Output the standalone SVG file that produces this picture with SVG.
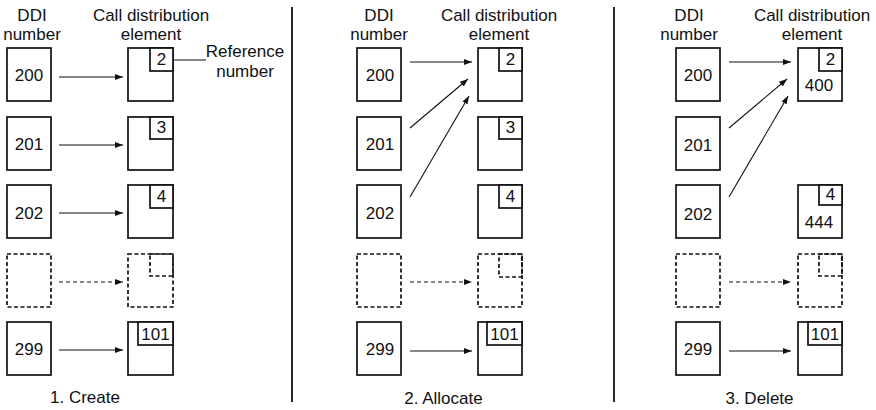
<svg xmlns="http://www.w3.org/2000/svg" width="876" height="410" viewBox="0 0 876 410">
<style>
text{font-family:"Liberation Sans",Arial,sans-serif;fill:#111;text-anchor:middle}
.t{font-size:17px}
.n{font-size:17px}
.box{fill:#fff;stroke:#111;stroke-width:1.7}
.dbox{fill:none;stroke:#111;stroke-width:1.7;stroke-dasharray:4 2.5}
.arr{fill:none;stroke:#111;stroke-width:1.1;marker-end:url(#ah)}
.darr{fill:none;stroke:#111;stroke-width:1.1;stroke-dasharray:4 3;marker-end:url(#ah)}
.div{stroke:#111;stroke-width:1.8}
.ln{stroke:#111;stroke-width:1.1}
</style>
<defs>
<marker id="ah" markerUnits="userSpaceOnUse" markerWidth="8" markerHeight="6" refX="8" refY="3" orient="auto">
<path d="M0,0 L8,3 L0,6 z" fill="#111"/>
</marker>
</defs>
<rect width="876" height="410" fill="#fff"/>

<g id="headers">
<text class="t" x="32" y="20.5">DDI</text>
<text class="t" x="32" y="40">number</text>
<text class="t" x="151" y="20.5">Call distribution</text>
<text class="t" x="151" y="40">element</text>
<text class="t" x="379" y="20.5">DDI</text>
<text class="t" x="379" y="40">number</text>
<text class="t" x="499" y="20.5">Call distribution</text>
<text class="t" x="499" y="40">element</text>
<text class="t" x="689" y="20.5">DDI</text>
<text class="t" x="689" y="40">number</text>
<text class="t" x="812" y="20.5">Call distribution</text>
<text class="t" x="812" y="40">element</text>
</g>

<g id="dividers">
<line class="div" x1="292" y1="7" x2="292" y2="402"/>
<line class="div" x1="614" y1="7" x2="614" y2="402"/>
</g>

<!-- Panel 1 -->
<g id="p1-ddi-200"><rect class="box" x="7" y="48" width="44" height="53"/><text class="n" x="29" y="81">200</text></g>
<g id="p1-ddi-201"><rect class="box" x="7" y="117" width="44" height="53"/><text class="n" x="29" y="150">201</text></g>
<g id="p1-ddi-202"><rect class="box" x="7" y="185" width="44" height="53"/><text class="n" x="29" y="219">202</text></g>
<g id="p1-ddi-dash"><rect class="dbox" x="7" y="254" width="44" height="53"/></g>
<g id="p1-ddi-299"><rect class="box" x="7" y="322" width="44" height="53"/><text class="n" x="29" y="355">299</text></g>

<g id="p1-cde-2"><rect class="box" x="128" y="48" width="45" height="53"/><rect class="box" x="150" y="48" width="23" height="23"/><text class="n" x="161.5" y="65">2</text></g>
<g id="p1-cde-3"><rect class="box" x="128" y="117" width="45" height="53"/><rect class="box" x="150" y="117" width="23" height="22"/><text class="n" x="161.5" y="133">3</text></g>
<g id="p1-cde-4"><rect class="box" x="128" y="185" width="45" height="53"/><rect class="box" x="150" y="185" width="23" height="23"/><text class="n" x="161.5" y="202">4</text></g>
<g id="p1-cde-dash"><rect class="dbox" x="128" y="254" width="45" height="53"/><rect class="dbox" x="150" y="254" width="23" height="22"/></g>
<g id="p1-cde-101"><rect class="box" x="128" y="322" width="45" height="53"/><rect class="box" x="138" y="322" width="35" height="23"/><text class="n" x="155.5" y="340">101</text></g>

<g id="p1-reference-label">
<line class="ln" x1="173" y1="60" x2="206" y2="60"/>
<text class="t" x="245" y="57">Reference</text>
<text class="t" x="245" y="77">number</text>
</g>
<text class="t" x="85" y="403">1. Create</text>

<!-- Panel 2 -->
<g id="p2-ddi-200"><rect class="box" x="357" y="48" width="44" height="53"/><text class="n" x="380" y="81">200</text></g>
<g id="p2-ddi-201"><rect class="box" x="357" y="117" width="44" height="53"/><text class="n" x="380" y="150">201</text></g>
<g id="p2-ddi-202"><rect class="box" x="357" y="185" width="44" height="53"/><text class="n" x="380" y="219">202</text></g>
<g id="p2-ddi-dash"><rect class="dbox" x="357" y="254" width="44" height="53"/></g>
<g id="p2-ddi-299"><rect class="box" x="357" y="322" width="44" height="53"/><text class="n" x="380" y="355">299</text></g>

<g id="p2-cde-2"><rect class="box" x="478" y="48" width="44" height="53"/><rect class="box" x="499" y="48" width="23" height="23"/><text class="n" x="510.5" y="65">2</text></g>
<g id="p2-cde-3"><rect class="box" x="478" y="117" width="44" height="53"/><rect class="box" x="499" y="117" width="23" height="22"/><text class="n" x="510.5" y="133">3</text></g>
<g id="p2-cde-4"><rect class="box" x="478" y="185" width="44" height="53"/><rect class="box" x="499" y="185" width="23" height="23"/><text class="n" x="510.5" y="202">4</text></g>
<g id="p2-cde-dash"><rect class="dbox" x="478" y="254" width="44" height="53"/><rect class="dbox" x="499" y="254" width="23" height="23"/></g>
<g id="p2-cde-101"><rect class="box" x="478" y="322" width="44" height="53"/><rect class="box" x="487" y="322" width="35" height="23"/><text class="n" x="504.5" y="340">101</text></g>
<text class="t" x="443.5" y="404">2. Allocate</text>

<!-- Panel 3 -->
<g id="p3-ddi-200"><rect class="box" x="676" y="48" width="44" height="53"/><text class="n" x="698" y="81">200</text></g>
<g id="p3-ddi-201"><rect class="box" x="676" y="117" width="44" height="53"/><text class="n" x="698" y="151">201</text></g>
<g id="p3-ddi-202"><rect class="box" x="676" y="185" width="44" height="53"/><text class="n" x="698" y="220">202</text></g>
<g id="p3-ddi-dash"><rect class="dbox" x="676" y="254" width="44" height="53"/></g>
<g id="p3-ddi-299"><rect class="box" x="676" y="322" width="44" height="53"/><text class="n" x="698" y="355">299</text></g>

<g id="p3-cde-2-400"><rect class="box" x="798" y="48" width="44" height="53"/><rect class="box" x="819" y="48" width="23" height="23"/><text class="n" x="830.5" y="65">2</text><text class="n" x="819" y="91">400</text></g>
<g id="p3-cde-4-444"><rect class="box" x="798" y="185" width="44" height="53"/><rect class="box" x="819" y="185" width="23" height="20"/><text class="n" x="830.5" y="200">4</text><text class="n" x="819" y="228">444</text></g>
<g id="p3-cde-dash"><rect class="dbox" x="798" y="254" width="44" height="53"/><rect class="dbox" x="819" y="254" width="23" height="22"/></g>
<g id="p3-cde-101"><rect class="box" x="798" y="322" width="44" height="53"/><rect class="box" x="808" y="322" width="34" height="23"/><text class="n" x="825" y="340">101</text></g>
<text class="t" x="759.5" y="404">3. Delete</text>

<g id="connectors">
<line class="arr" x1="59" y1="77" x2="123" y2="77"/>
<line class="arr" x1="59" y1="145" x2="123" y2="145"/>
<line class="arr" x1="59" y1="213" x2="123" y2="213"/>
<line class="darr" x1="59" y1="282" x2="123" y2="282"/>
<line class="arr" x1="59" y1="350" x2="123" y2="350"/>

<line class="arr" x1="410" y1="62" x2="472" y2="62"/>
<line class="arr" x1="410" y1="128" x2="468" y2="79"/>
<line class="arr" x1="410" y1="197" x2="469" y2="96"/>
<line class="darr" x1="410" y1="282" x2="472" y2="282"/>
<line class="arr" x1="410" y1="351" x2="472" y2="351"/>

<line class="arr" x1="729" y1="62" x2="791" y2="62"/>
<line class="arr" x1="729" y1="128" x2="787" y2="79"/>
<line class="arr" x1="729" y1="197" x2="788" y2="96"/>
<line class="darr" x1="729" y1="282" x2="791" y2="282"/>
<line class="arr" x1="729" y1="351" x2="791" y2="351"/>
</g>
</svg>
